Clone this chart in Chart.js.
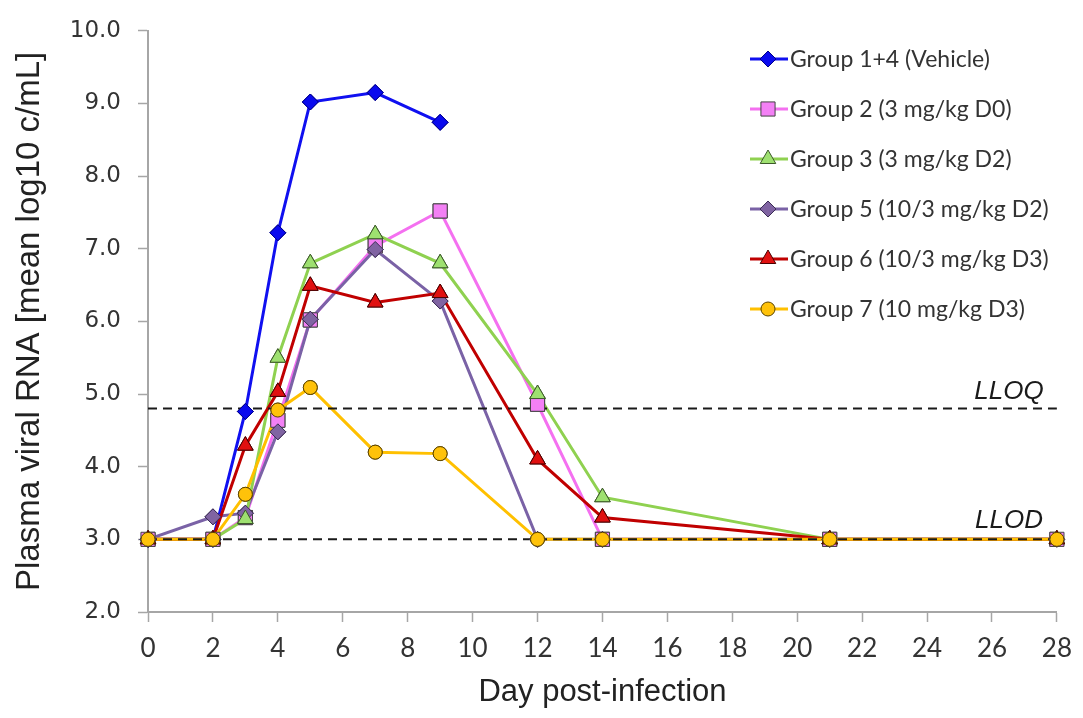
<!DOCTYPE html>
<html lang="en">
<head>
<meta charset="UTF-8">
<title>Plasma viral RNA</title>
<script src="https://cdn.jsdelivr.net/npm/chart.js@4.4.1/dist/chart.umd.min.js"></script>
<style>
    body { margin: 0; background: #fff; }
    #wrap { width: 1083px; height: 718px; }
</style>
</head>
<body>
<div id="wrap"><canvas id="chart" width="1083" height="718"></canvas></div>
<script>
// values (log10 c/mL)
const days = [0, 2, 3, 4, 5, 7, 9, 12, 14, 21, 28];
const group14 = [3.0, 3.0, 4.76, 7.22, 9.02, 9.15, 8.74, null, null, null, null];
const group2 = [3.0, 3.0, 3.3, 4.64, 6.02, 7.04, 7.52, 4.86, 3.0, 3.0, 3.0];
const group3 = [3.0, 3.0, 3.28, 5.5, 6.8, 7.2, 6.8, 5.0, 3.58, 3.0, 3.0];
const group5 = [3.0, 3.31, 3.36, 4.48, 6.03, 6.99, 6.28, 3.0, 3.0, 3.0, 3.0];
const group6 = [3.0, 3.0, 4.29, 5.03, 6.49, 6.26, 6.39, 4.1, 3.3, 3.0, 3.0];
const group7 = [3.0, 3.0, 3.62, 4.78, 5.09, 4.2, 4.18, 3.0, 3.0, 3.0, 3.0];
const groupLabels = [
    'Group 1+4 (Vehicle)',
    'Group 2 (3 mg/kg D0)',
    'Group 3 (3 mg/kg D2)',
    'Group 5 (10/3 mg/kg D2)',
    'Group 6 (10/3 mg/kg D3)',
    'Group 7 (10 mg/kg D3)'
];
const limitDays = [0, 28];
const lloq = [4.8, 4.8];
const llod = [3.0, 3.0];
const yTicks = [2, 3, 4, 5, 6, 7, 8, 9, 10];

function pts(xs, ys) {
    return xs.map((x, i) => ({ x: x, y: ys[i] })).filter(p => p.y !== null);
}

function series(label, values, line, fill, edge, style, radius, order) {
    return {
        label: label,
        data: pts(days, values),
        borderColor: line,
        backgroundColor: fill,
        borderWidth: 3,
        pointStyle: style,
        pointRadius: radius,
        pointBackgroundColor: fill,
        pointBorderColor: edge,
        pointBorderWidth: 1,
        order: order,
        isGroup: true
    };
}

function limit(values) {
    return {
        data: pts(limitDays, values),
        borderColor: '#1a1a1a',
        borderWidth: 2,
        borderDash: [9, 6],
        pointRadius: 0,
        order: 0
    };
}

const datasets = [
    series(groupLabels[0], group14, '#1010f0', '#0a0aee', '#00008a', 'rectRot', 8, 6),
    series(groupLabels[1], group2, '#f470f0', '#f380f5', '#444', 'rect', 10, 5),
    series(groupLabels[2], group3, '#8fd150', '#9ee070', '#3d5a2a', 'triangle', 9, 3),
    series(groupLabels[3], group5, '#7a62a6', '#8064a2', '#3b2d55', 'rectRot', 8, 4),
    series(groupLabels[4], group6, '#c00000', '#e01010', '#4a0000', 'triangle', 9, 2),
    series(groupLabels[5], group7, '#ffc000', '#ffc20a', '#5a4300', 'circle', 7, 1),
    limit(lloq),
    limit(llod)
];

// markers stay above the dashed limit lines
const pointsOnTop = {
    id: 'pointsOnTop',
    afterDatasetsDraw(chart) {
        const metas = chart.getSortedVisibleDatasetMetas();
        for (let i = metas.length - 1; i >= 0; i--) {
            const ds = chart.data.datasets[metas[i].index];
            if (!ds.isGroup) continue;
            metas[i].data.forEach(p => p.draw(chart.ctx, chart.chartArea));
        }
    }
};

const extras = {
    id: 'extras',
    afterDraw(chart) {
        const ctx = chart.ctx;
        const y = chart.scales.y;
        ctx.save();
        ctx.fillStyle = '#1a1a1a';
        ctx.font = 'italic 26px "Liberation Sans", Arial, sans-serif';
        ctx.textAlign = 'center';
        ctx.textBaseline = 'middle';
        ctx.fillText('LLOQ', 1009, y.getPixelForValue(lloq[0]) - 17);
        ctx.fillText('LLOD', 1009, y.getPixelForValue(llod[0]) - 19);

        // legend in the upper right of the plot
        ctx.textAlign = 'left';
        ctx.font = '23px Lato, "Open Sans", sans-serif';
        chart.data.datasets.forEach((ds, i) => {
            if (!ds.isGroup) return;
            const ly = 59 + i * 50;
            ctx.strokeStyle = ds.borderColor;
            ctx.lineWidth = 3;
            ctx.setLineDash([]);
            ctx.beginPath();
            ctx.moveTo(750, ly);
            ctx.lineTo(788, ly);
            ctx.stroke();
            ctx.fillStyle = ds.pointBackgroundColor;
            ctx.strokeStyle = ds.pointBorderColor;
            ctx.lineWidth = 1;
            Chart.helpers.drawPoint(ctx, {
                pointStyle: ds.pointStyle,
                radius: ds.pointRadius,
                rotation: 0,
                borderWidth: 1
            }, 768, ly);
            ctx.fillStyle = '#333';
            ctx.fillText(ds.label, 790, ly + 1);
        });
        ctx.restore();
    }
};

new Chart(document.getElementById('chart'), {
    type: 'line',
    data: { datasets: datasets },
    plugins: [pointsOnTop, extras],
    options: {
        responsive: false,
        animation: false,
        events: [],
        layout: { padding: { top: 25, right: 18, left: 0, bottom: 0 } },
        plugins: { legend: { display: false }, tooltip: { enabled: false } },
        scales: {
            x: {
                type: 'linear',
                min: 0,
                max: 28,
                afterFit(s) { s.height = 106; },
                border: { color: '#a6a6a6', width: 2 },
                grid: { drawOnChartArea: false, tickLength: 10, color: '#a6a6a6', tickWidth: 1.5 },
                ticks: {
                    stepSize: 2,
                    padding: 11,
                    color: '#333',
                    font: { family: 'Lato, "Open Sans", sans-serif', size: 26 }
                },
                title: {
                    display: true,
                    text: 'Day post-infection',
                    color: '#222',
                    padding: { top: 0, bottom: 7 },
                    font: { family: '"Liberation Sans", Arial, sans-serif', size: 31 }
                }
            },
            y: {
                min: 2,
                max: 10,
                afterFit(s) { s.width = 148; },
                afterBuildTicks(s) { s.ticks = yTicks.map(v => ({ value: v })); },
                border: { color: '#a6a6a6', width: 2 },
                grid: { drawOnChartArea: false, tickLength: 10, color: '#a6a6a6', tickWidth: 1.5 },
                ticks: {
                    padding: 17,
                    color: '#333',
                    font: { family: '"DejaVu Sans", Verdana, sans-serif', size: 23 },
                    callback: v => Number(v).toFixed(1)
                },
                title: {
                    display: true,
                    text: 'Plasma viral RNA [mean log10 c/mL]',
                    color: '#222',
                    padding: { top: 10, bottom: 0 },
                    font: { family: '"Liberation Sans", Arial, sans-serif', size: 33 }
                }
            }
        }
    }
});
</script>
</body>
</html>
